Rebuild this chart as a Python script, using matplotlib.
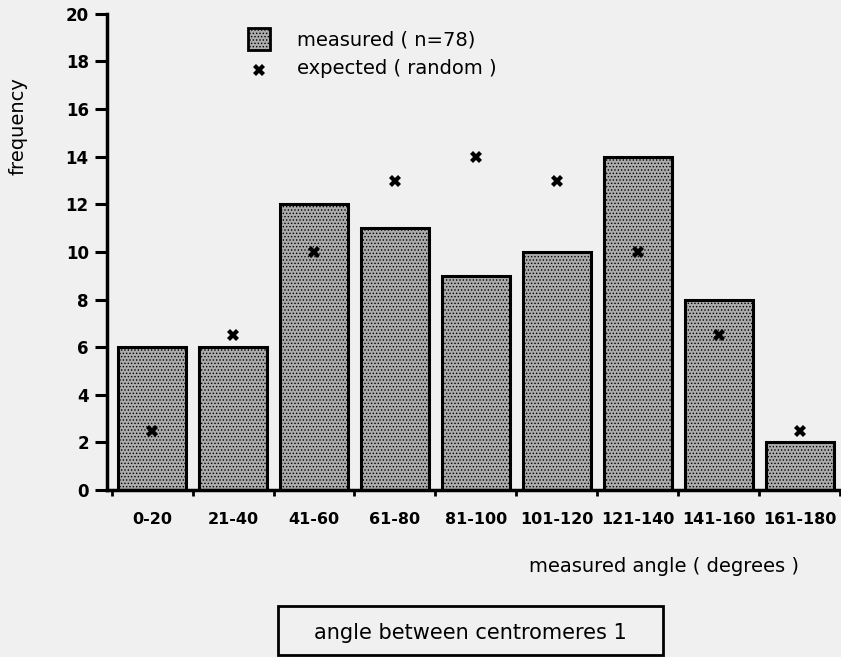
import matplotlib
matplotlib.use('Agg')
import matplotlib.pyplot as plt
from matplotlib.patches import Rectangle

BG = '#f0f0f0'
BAR_FILL = '#ababab'

categories = ['0-20', '21-40', '41-60', '61-80', '81-100',
              '101-120', '121-140', '141-160', '161-180']
measured = [6, 6, 12, 11, 9, 10, 14, 8, 2]
expected = [2.5, 6.5, 10, 13, 14, 13, 10, 6.5, 2.5]
y_ticks = list(range(0, 21, 2))

plt.rcParams['font.family'] = ['DejaVu Sans']
plt.rcParams['hatch.color'] = '#4a4a4a'
plt.rcParams['hatch.linewidth'] = 0.6

fig = plt.figure(figsize=(8.41, 6.57), dpi=100, facecolor=BG)
ax = fig.add_axes([0.127, 0.254, 0.872, 0.725], facecolor=BG)

x = list(range(len(categories)))

# Measured frequencies as dotted bars.
ax.bar(x, measured, width=0.84, color=BAR_FILL, edgecolor='black',
       linewidth=2.2, hatch='.....', zorder=2)

# Expected frequencies (random) as bold crosses.
ax.plot(x, expected, linestyle='none', marker='X', markersize=9,
        color='black', markeredgewidth=0, zorder=3)

ax.set_xlim(-0.56, 8.5)
ax.set_ylim(0, 20)

for side in ['top', 'right']:
    ax.spines[side].set_visible(False)
ax.spines['left'].set_linewidth(2.5)
ax.spines['bottom'].set_linewidth(2.5)

ax.set_yticks(y_ticks)
ax.tick_params(axis='y', direction='out', length=9, width=2.2,
               labelsize=12, pad=4)

# Category labels centred under bars, tick marks at the bin edges.
ax.set_xticks([i + 0.5 for i in range(-1, len(categories))])
ax.set_xticklabels([])
ax.tick_params(axis='x', direction='out', length=4, width=2)
ax.set_xticks(x, minor=True)
ax.set_xticklabels(categories, minor=True, fontsize=11.5,
                   fontweight='bold')
ax.tick_params(axis='x', which='minor', length=0, pad=16)
for lbl in ax.get_yticklabels():
    lbl.set_fontweight('bold')

fig.text(0.021, 0.808, 'frequency', rotation=90, ha='center',
         va='center', fontsize=14)
fig.text(0.79, 0.138, 'measured angle ( degrees )', ha='center',
         va='center', fontsize=14)

# Legend drawn by hand, as in the original.
fig.patches.append(Rectangle((0.295, 0.924), 0.026, 0.033,
                             transform=fig.transFigure, facecolor=BAR_FILL,
                             edgecolor='black', linewidth=2, hatch='.....'))
fig.text(0.353, 0.939, 'measured ( n=78)', ha='left', va='center',
         fontsize=14)
fig.lines.append(plt.Line2D([0.308], [0.894], transform=fig.transFigure,
                            marker='X', markersize=9, color='black',
                            markeredgewidth=0, linestyle='none'))
fig.text(0.353, 0.895, 'expected ( random )', ha='left', va='center',
         fontsize=14)

# Title box at the bottom.
fig.patches.append(Rectangle((0.331, 0.003), 0.457, 0.075,
                             transform=fig.transFigure, facecolor=BG,
                             edgecolor='black', linewidth=2))
fig.text(0.559, 0.036, 'angle between centromeres 1', ha='center',
         va='center', fontsize=15)

fig.savefig('out.png', dpi=100, facecolor=BG)
